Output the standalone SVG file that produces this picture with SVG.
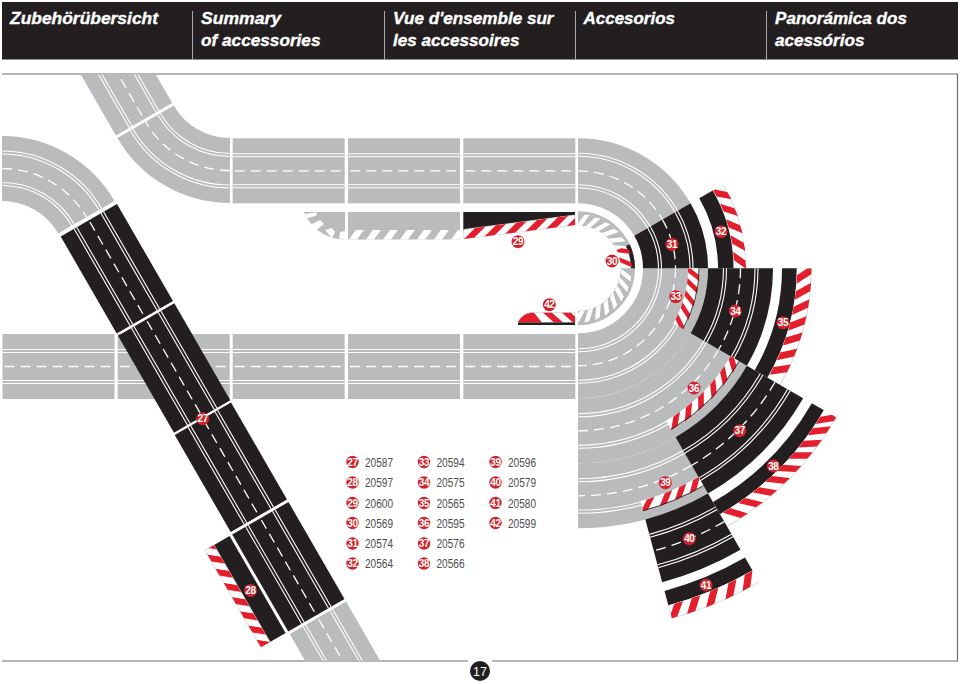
<svg xmlns="http://www.w3.org/2000/svg" xmlns:xlink="http://www.w3.org/1999/xlink" width="960" height="684" viewBox="0 0 960 684">
<style>
  text { font-family: "Liberation Sans", Arial, sans-serif; }
  .head { fill: #fff; stroke: #fff; stroke-width: 0.35px; font-size: 16.5px; font-weight: bold; font-style: italic; }
  .key { fill: #4d4d4f; font-size: 12.5px; }
  .tag { fill: #fff; font-size: 10px; font-weight: bold; text-anchor: middle; letter-spacing: -0.4px; }
  circle, path.arc { fill: none; }
  .dot { fill: #d2232a; }
  .grey { stroke: #b9bbbd; }
  .black { stroke: #231f20; }
  .ln { stroke: #fff; stroke-width: 1.1; }
  .ds { stroke: #fff; stroke-width: 1.3; stroke-dasharray: 10 6; fill: none; }
  .ew { stroke: #fff; }
  .eg { stroke: #c4c6c8; }
  .ek { stroke: #231f20; }
  .rule { stroke: #6d6e71; stroke-width: 1.2; fill: none; }
  .red { fill: #e31e2d; }
  .wht { fill: #fff; }
</style>
<defs>
  <clipPath id="frame"><rect x="0" y="74.5" width="960" height="586"/></clipPath>
  <clipPath id="w-90-25"><polygon points="0,0 0,-1000 906,-423"/></clipPath>
  <clipPath id="w-25-0"><polygon points="0,0 906,-423 1000,0"/></clipPath>
  <clipPath id="w-30-0"><polygon points="0,0 866,-500 1000,0"/></clipPath>
  <clipPath id="w0-30"><polygon points="0,0 1000,0 866,500"/></clipPath>
  <clipPath id="w0-90"><polygon points="0,0 1000,0 1000,1000 0,1000"/></clipPath>
  <clipPath id="w30-60"><polygon points="0,0 866,500 500,866"/></clipPath>
  <clipPath id="w60-75"><polygon points="0,0 500,866 259,966"/></clipPath>

  <pattern id="hatch-g" width="17" height="10" patternUnits="userSpaceOnUse" patternTransform="translate(349,239.5) skewX(-36)">
    <rect width="8" height="10" fill="#fff"/>
  </pattern>
  <pattern id="hatch-29" width="18" height="10" patternUnits="userSpaceOnUse" patternTransform="translate(464,239) skewX(-45)">
    <rect width="9" height="10" fill="#e31e2d"/>
  </pattern>
  <pattern id="hatch-28" width="16.4" height="10" patternUnits="userSpaceOnUse" patternTransform="translate(13.5,86) skewX(-39)">
    <rect width="8" height="10" fill="#e31e2d"/>
  </pattern>

  <!-- lane markings of one straight section, 112 long and 65 wide -->
  <g id="marks">
    <path class="ln" d="M0 15.5H112M0 18.5H112M0 46.5H112M0 49.5H112"/>
    <path class="ds" d="M2 32.5H112"/>
  </g>
  <g id="s-grey"><rect width="112" height="65" fill="#b9bbbd"/><use href="#marks"/></g>
  <g id="s-black"><rect width="112" height="65" fill="#231f20"/><use href="#marks"/></g>

  <!-- 60 degree curve of the innermost lane, drawn round the origin -->
  <g id="curve60" stroke-dasharray="60 300" transform="rotate(-90)">
    <circle class="grey" r="97.5" pathLength="360" stroke-width="65"/>
    <circle class="ln" r="80.5" pathLength="360"/>
    <circle class="ln" r="83.5" pathLength="360"/>
    <circle class="ln" r="112" pathLength="360"/>
    <circle class="ln" r="115" pathLength="360"/>
  </g>
  <path id="d97-60" class="ds" d="M97.5 0A97.5 97.5 0 0 1 48.75 84.44"/>
  <path id="d97-30" class="ds" d="M97.5 0A97.5 97.5 0 0 1 84.44 48.75"/>
  <path id="d97-90" class="ds" d="M97.5 0A97.5 97.5 0 0 1 0 97.5"/>
  <path id="d162-30" class="ds" d="M162.5 0A162.5 162.5 0 0 1 140.73 81.25"/>
  <path id="d162-60" class="ds" d="M162.5 0A162.5 162.5 0 0 1 81.25 140.73"/>
  <path id="d227-30" class="ds" d="M227.5 0A227.5 227.5 0 0 1 197.02 113.75"/>
  <path id="d292-15" class="ds" d="M292.5 0A292.5 292.5 0 0 1 282.54 75.7"/>

  <!-- slanted kerb stripes, x is the radius and y runs along the arc -->
  <polygon id="s30" points="42.5,0 42.5,5.5 53,13.5 53,8"/>
  <polygon id="s32" class="red" points="156,0 156,8.5 167.3,18.5 167.3,10"/>
  <polygon id="s33" class="red" points="110,0 110,6 121,15 121,9"/>
  <polygon id="s35" class="red" points="219,0 219,8.5 233.3,-1.5 233.3,-10"/>
  <polygon id="s36" class="red" points="176,0 176,8 186,18 186,10"/>
  <polygon id="s38" class="red" points="284,0 284,8.5 298,-3.5 298,-12"/>
  <polygon id="s39" class="red" points="241,0 241,8 251,18 251,10"/>
  <polygon id="s41" class="red" points="349,0 349,9 362,19 362,10"/>
</defs>

<!-- page heading -->
<g id="heading">
  <rect x="2" y="2" width="956" height="57.5" fill="#231f20"/>
  <path d="M192.5 11V60M384.5 11V60M575.5 11V60M766.5 11V60" stroke="#a7a9ac" stroke-width="1" fill="none"/>
  <text class="head" x="10" y="24" textLength="148" lengthAdjust="spacingAndGlyphs">Zubehörübersicht</text>
  <text class="head" x="201" y="24" textLength="80" lengthAdjust="spacingAndGlyphs">Summary</text>
  <text class="head" x="201" y="46" textLength="119.5" lengthAdjust="spacingAndGlyphs">of accessories</text>
  <text class="head" x="393" y="24" textLength="160.5" lengthAdjust="spacingAndGlyphs">Vue d'ensemble sur</text>
  <text class="head" x="393" y="46" textLength="126.5" lengthAdjust="spacingAndGlyphs">les accessoires</text>
  <text class="head" x="583.5" y="24" textLength="91.5" lengthAdjust="spacingAndGlyphs">Accesorios</text>
  <text class="head" x="775" y="24" textLength="132" lengthAdjust="spacingAndGlyphs">Panorámica dos</text>
  <text class="head" x="775" y="46" textLength="89.5" lengthAdjust="spacingAndGlyphs">acessórios</text>
</g>

<!-- frame round the layout -->
<path id="frame-line" class="rule" d="M2 74H957.5V661H492M468 661H2"/>

<!-- grey layout underneath the black parts -->
<g id="layout" clip-path="url(#frame)">
  <g transform="translate(172.2,102.9) rotate(60) translate(-112,0)"><use href="#s-grey"/></g>
  <g transform="translate(230,73) rotate(180)"><use href="#curve60"/><use href="#d97-60" transform="rotate(-90)"/></g>
  <g transform="translate(2,266)"><use href="#curve60"/><use href="#d97-60" transform="rotate(-90)"/></g>
  <use href="#s-grey" x="232.7" y="138.3"/>
  <use href="#s-grey" x="348" y="138.3"/>
  <use href="#s-grey" x="463.3" y="138.3"/>
  <use href="#s-grey" x="2.5" y="334"/>
  <use href="#s-grey" x="117.7" y="334"/>
  <use href="#s-grey" x="232.7" y="334"/>
  <use href="#s-grey" x="348" y="334"/>
  <use href="#s-grey" x="463.3" y="334"/>
  <g transform="translate(346,601.5) rotate(60)"><use href="#s-grey"/></g>

  <g transform="translate(578,268.3)">
    <use href="#curve60"/><use href="#d97-60" transform="rotate(-90)"/>
    <g stroke-dasharray="90 270">
      <circle class="grey" r="97.5" pathLength="360" stroke-width="65"/>
      <circle class="ln" r="80.5" pathLength="360"/><circle class="ln" r="83.5" pathLength="360"/>
      <circle class="ln" r="112" pathLength="360"/><circle class="ln" r="115" pathLength="360"/>
    </g>
    <use href="#d97-90"/>
    <g stroke-dasharray="60 300" transform="rotate(30)">
      <circle class="grey" r="162.5" pathLength="360" stroke-width="65"/>
      <circle class="ln" r="145.5" pathLength="360"/><circle class="ln" r="148.5" pathLength="360"/>
      <circle class="ln" r="177" pathLength="360"/><circle class="ln" r="180" pathLength="360"/>
    </g>
    <use href="#d162-60" transform="rotate(30)"/>
    <g stroke-dasharray="30 330" transform="rotate(60)">
      <circle class="grey" r="227.5" pathLength="360" stroke-width="65"/>
      <circle class="ln" r="210.5" pathLength="360"/><circle class="ln" r="213.5" pathLength="360"/>
      <circle class="ln" r="242" pathLength="360"/><circle class="ln" r="245" pathLength="360"/>
    </g>
    <use href="#d227-30" transform="rotate(60)"/>
  </g>
</g>

<!-- part 27: four black straights running down the diagonal -->
<g id="p27">
  <g transform="translate(117,204) rotate(60)"><use href="#s-black"/></g>
  <g transform="translate(174.3,303.3) rotate(60)"><use href="#s-black"/></g>
  <g transform="translate(231,402.5) rotate(60)"><use href="#s-black"/></g>
  <g transform="translate(288.5,502) rotate(60)"><use href="#s-black"/></g>
  <circle class="dot" cx="202.7" cy="418.7" r="6.5"/>
  <text class="tag" x="202.7" y="422.3">27</text>
</g>

<!-- part 28: lane and kerb beside the last straight -->
<g id="p28">
  <g transform="translate(288.5,502) rotate(60)">
    <rect x="0" y="68" width="112" height="18" fill="#231f20"/>
    <rect x="0" y="86" width="112" height="10.5" fill="#fff" stroke="#c4c6c8" stroke-width="0.6"/>
    <rect x="0" y="86" width="112" height="10.5" fill="url(#hatch-28)"/>
  </g>
  <circle class="dot" cx="250.5" cy="590.5" r="6.5"/>
  <text class="tag" x="250.5" y="594">28</text>
</g>

<!-- grey kerb pieces left of part 29 -->
<g id="kerb-left">
  <path d="M345 212H304A44 44 0 0 0 345 239.5Z" fill="#b9bbbd"/>
  <g class="wht">
    <polygon points="305,214 317,212.3 316,215.7 307,218.3"/>
    <polygon points="312,224 320,220 324,224 315,231"/>
    <polygon points="325,230 332,228 335,232 332,238"/>
    <polygon points="340,232 345,231 345,239.5 339,238.5"/>
  </g>
  <rect x="348" y="212" width="112" height="27.5" fill="#b9bbbd"/>
  <rect x="348" y="230" width="112" height="9.5" fill="url(#hatch-g)"/>
</g>

<!-- part 29 -->
<g id="p29">
  <polygon points="463.3,212 575,212 575,215 463.3,229.5" fill="#231f20"/>
  <polygon points="463.3,229.5 575,215 575,225 463.3,239" fill="#fff" stroke="#c4c6c8" stroke-width="0.6"/>
  <polygon points="463.3,229.5 575,215 575,225 463.3,239" fill="url(#hatch-29)"/>
  <circle class="dot" cx="518" cy="241.7" r="6.5"/>
  <text class="tag" x="518" y="245.3">29</text>
</g>

<!-- part 42 -->
<g id="p42">
  <path d="M518 322.5Q522 313 531 312.5H575V322.5Z" fill="#fff" stroke="#c4c6c8" stroke-width="0.6"/>
  <g class="red">
    <path d="M518 322.5Q522 314 531 312.8H534L542 322.5Z"/>
    <polygon points="543,312.8 552,312.8 563,322.5 554,322.5"/>
    <polygon points="562,312.8 571,312.8 575,316.5 575,322.5 573,322.5"/>
  </g>
  <rect x="518" y="322.5" width="57" height="2.5" fill="#231f20"/>
  <circle class="dot" cx="549.3" cy="304.7" r="6.5"/>
  <text class="tag" x="549.3" y="308.3">42</text>
</g>

<!-- curved parts share the centre of the big bend -->
<g id="bend" transform="translate(578,268.3)">
  <g id="p30">
    <circle class="grey" r="49.75" pathLength="360" stroke-width="14.5" stroke-dasharray="180 180" transform="rotate(-90)"/>
    <circle class="ew" r="47.75" pathLength="360" stroke-width="10.5" stroke-dasharray="25 335" transform="rotate(-25)"/>
    <circle class="ek" r="55" pathLength="360" stroke-width="4" stroke-dasharray="25 335" transform="rotate(-25)"/>
    <g clip-path="url(#w-90-25)" class="wht">
      <use href="#s30" transform="rotate(-92)"/><use href="#s30" transform="rotate(-80)"/>
      <use href="#s30" transform="rotate(-68)"/><use href="#s30" transform="rotate(-56)"/>
      <use href="#s30" transform="rotate(-44)"/><use href="#s30" transform="rotate(-33)"/>
    </g>
    <g clip-path="url(#w-25-0)" class="red">
      <use href="#s30" transform="rotate(-29.5)"/><use href="#s30" transform="rotate(-15)"/>
    </g>
    <g clip-path="url(#w0-90)" class="wht">
      <use href="#s30"/><use href="#s30" transform="rotate(11.5)"/>
      <use href="#s30" transform="rotate(23)"/><use href="#s30" transform="rotate(34.5)"/>
      <use href="#s30" transform="rotate(46)"/><use href="#s30" transform="rotate(57.5)"/>
      <use href="#s30" transform="rotate(69)"/><use href="#s30" transform="rotate(80.5)"/>
    </g>
  </g>

  <g id="p31">
    <g stroke-dasharray="30 330" transform="rotate(-30)">
      <circle class="black" r="97.5" pathLength="360" stroke-width="65"/>
      <circle class="ln" r="80.5" pathLength="360"/><circle class="ln" r="83.5" pathLength="360"/>
      <circle class="ln" r="112" pathLength="360"/><circle class="ln" r="115" pathLength="360"/>
    </g>
    <use href="#d97-30" transform="rotate(-30)"/>
  </g>

  <g id="p32">
    <circle class="black" r="148" pathLength="360" stroke-width="16" stroke-dasharray="30 330" transform="rotate(-30)"/>
    <circle class="eg" r="161.6" pathLength="360" stroke-width="12.4" stroke-dasharray="30 330" transform="rotate(-30)"/>
    <circle class="ew" r="161.6" pathLength="360" stroke-width="11.4" stroke-dasharray="30 330" transform="rotate(-30)"/>
    <g clip-path="url(#w-30-0)">
      <use href="#s32" transform="rotate(-30.5)"/><use href="#s32" transform="rotate(-24.4)"/>
      <use href="#s32" transform="rotate(-18.3)"/><use href="#s32" transform="rotate(-12.2)"/>
      <use href="#s32" transform="rotate(-6.1)"/>
    </g>
  </g>

  <g id="p34">
    <g stroke-dasharray="30 330">
      <circle class="black" r="162.5" pathLength="360" stroke-width="65"/>
      <circle class="ln" r="145.5" pathLength="360"/><circle class="ln" r="148.5" pathLength="360"/>
      <circle class="ln" r="177" pathLength="360"/><circle class="ln" r="180" pathLength="360"/>
    </g>
    <use href="#d162-30"/>
  </g>

  <g id="p33">
    <circle class="ew" r="115.5" pathLength="360" stroke-width="11" stroke-dasharray="30 330"/>
    <g clip-path="url(#w0-30)">
      <use href="#s33" transform="rotate(-1)"/><use href="#s33" transform="rotate(5)"/>
      <use href="#s33" transform="rotate(11.5)"/><use href="#s33" transform="rotate(18)"/>
      <use href="#s33" transform="rotate(24.5)"/>
    </g>
    <circle class="ek" r="121" pathLength="360" stroke-width="0.8" stroke-dasharray="30 330"/>
  </g>

  <g id="p35">
    <circle class="black" r="211.5" pathLength="360" stroke-width="15" stroke-dasharray="30 330"/>
    <circle class="eg" r="226.2" pathLength="360" stroke-width="15" stroke-dasharray="30 330"/>
    <circle class="ew" r="226" pathLength="360" stroke-width="14" stroke-dasharray="30 330"/>
    <g clip-path="url(#w0-30)">
      <use href="#s35" transform="rotate(1.8)"/><use href="#s35" transform="rotate(6)"/>
      <use href="#s35" transform="rotate(10.1)"/><use href="#s35" transform="rotate(14.3)"/>
      <use href="#s35" transform="rotate(18.4)"/><use href="#s35" transform="rotate(22.6)"/>
      <use href="#s35" transform="rotate(26.8)"/>
    </g>
  </g>

  <g id="p37">
    <g stroke-dasharray="30 330" transform="rotate(30)">
      <circle class="black" r="227.5" pathLength="360" stroke-width="65"/>
      <circle class="ln" r="210.5" pathLength="360"/><circle class="ln" r="213.5" pathLength="360"/>
      <circle class="ln" r="242" pathLength="360"/><circle class="ln" r="245" pathLength="360"/>
    </g>
    <use href="#d227-30" transform="rotate(30)"/>
  </g>

  <g id="p36">
    <circle class="ew" r="181" pathLength="360" stroke-width="10" stroke-dasharray="30 330" transform="rotate(30)"/>
    <g clip-path="url(#w30-60)">
      <use href="#s36" transform="rotate(28.6)"/><use href="#s36" transform="rotate(33.6)"/>
      <use href="#s36" transform="rotate(38.8)"/><use href="#s36" transform="rotate(44.4)"/>
      <use href="#s36" transform="rotate(49.6)"/><use href="#s36" transform="rotate(54.6)"/>
    </g>
    <circle class="ek" r="186" pathLength="360" stroke-width="0.8" stroke-dasharray="30 330" transform="rotate(30)"/>
  </g>

  <g id="p38">
    <circle class="black" r="277" pathLength="360" stroke-width="14" stroke-dasharray="30 330" transform="rotate(30)"/>
    <circle class="eg" r="291.2" pathLength="360" stroke-width="14.6" stroke-dasharray="30 330" transform="rotate(30)"/>
    <circle class="ew" r="291" pathLength="360" stroke-width="14" stroke-dasharray="30 330" transform="rotate(30)"/>
    <g clip-path="url(#w30-60)">
      <use href="#s38" transform="rotate(31.5)"/><use href="#s38" transform="rotate(34.3)"/>
      <use href="#s38" transform="rotate(37.4)"/><use href="#s38" transform="rotate(40.4)"/>
      <use href="#s38" transform="rotate(43.8)"/><use href="#s38" transform="rotate(47)"/>
      <use href="#s38" transform="rotate(50.4)"/><use href="#s38" transform="rotate(54)"/>
      <use href="#s38" transform="rotate(57.6)"/>
    </g>
  </g>

  <g id="p39">
    <circle class="ew" r="246" pathLength="360" stroke-width="10" stroke-dasharray="15 345" transform="rotate(60)"/>
    <g clip-path="url(#w60-75)">
      <use href="#s39" transform="rotate(59.6)"/><use href="#s39" transform="rotate(63.3)"/>
      <use href="#s39" transform="rotate(67)"/><use href="#s39" transform="rotate(71.5)"/>
    </g>
    <circle class="ek" r="251" pathLength="360" stroke-width="0.8" stroke-dasharray="15 345" transform="rotate(60)"/>
  </g>

  <g id="p40">
    <g stroke-dasharray="15 345" transform="rotate(60)">
      <circle class="black" r="292.5" pathLength="360" stroke-width="65"/>
      <circle class="ln" r="275.5" pathLength="360"/><circle class="ln" r="278.5" pathLength="360"/>
      <circle class="ln" r="307" pathLength="360"/><circle class="ln" r="310" pathLength="360"/>
    </g>
    <use href="#d292-15" transform="rotate(60)"/>
  </g>

  <g id="p41">
    <circle class="black" r="341.5" pathLength="360" stroke-width="15" stroke-dasharray="15 345" transform="rotate(60)"/>
    <circle class="eg" r="355.7" pathLength="360" stroke-width="13.6" stroke-dasharray="15 345" transform="rotate(60)"/>
    <circle class="ew" r="355.5" pathLength="360" stroke-width="13" stroke-dasharray="15 345" transform="rotate(60)"/>
    <g clip-path="url(#w60-75)">
      <use href="#s41" transform="rotate(60)"/><use href="#s41" transform="rotate(63)"/>
      <use href="#s41" transform="rotate(66.3)"/><use href="#s41" transform="rotate(69.5)"/>
      <use href="#s41" transform="rotate(72.5)"/>
    </g>
  </g>
</g>

<!-- number tags on the curved parts -->
<g id="tags">
  <circle class="dot" cx="612" cy="261" r="6.5"/>
  <circle class="dot" cx="672" cy="244.3" r="6.5"/>
  <circle class="dot" cx="721" cy="231.7" r="6.5"/>
  <circle class="dot" cx="675.7" cy="296.7" r="6.5"/>
  <circle class="dot" cx="735.3" cy="311" r="6.5"/>
  <circle class="dot" cx="783" cy="322.7" r="6.5"/>
  <circle class="dot" cx="694" cy="388" r="6.5"/>
  <circle class="dot" cx="739.7" cy="430.7" r="6.5"/>
  <circle class="dot" cx="773.3" cy="466" r="6.5"/>
  <circle class="dot" cx="665.3" cy="482.7" r="6.5"/>
  <circle class="dot" cx="689.3" cy="538.7" r="6.5"/>
  <circle class="dot" cx="706" cy="585" r="6.5"/>
  <text class="tag" x="612" y="264.6">30</text>
  <text class="tag" x="672" y="247.9">31</text>
  <text class="tag" x="721" y="235.3">32</text>
  <text class="tag" x="675.7" y="300.3">33</text>
  <text class="tag" x="735.3" y="314.6">34</text>
  <text class="tag" x="783" y="326.3">35</text>
  <text class="tag" x="694" y="391.6">36</text>
  <text class="tag" x="739.7" y="434.3">37</text>
  <text class="tag" x="773.3" y="469.6">38</text>
  <text class="tag" x="665.3" y="486.3">39</text>
  <text class="tag" x="689.3" y="542.3">40</text>
  <text class="tag" x="706" y="588.6">41</text>
</g>

<!-- list of part numbers -->
<g id="key">
  <g>
    <circle class="dot" cx="352.5" cy="462" r="6.2"/><text class="tag" x="352.5" y="465.6">27</text>
    <text class="key" x="365" y="466.5" textLength="28" lengthAdjust="spacingAndGlyphs">20587</text>
    <circle class="dot" cx="352.5" cy="482.5" r="6.2"/><text class="tag" x="352.5" y="486.1">28</text>
    <text class="key" x="365" y="487" textLength="28" lengthAdjust="spacingAndGlyphs">20597</text>
    <circle class="dot" cx="352.5" cy="503" r="6.2"/><text class="tag" x="352.5" y="506.6">29</text>
    <text class="key" x="365" y="507.5" textLength="28" lengthAdjust="spacingAndGlyphs">20600</text>
    <circle class="dot" cx="352.5" cy="523" r="6.2"/><text class="tag" x="352.5" y="526.6">30</text>
    <text class="key" x="365" y="527.5" textLength="28" lengthAdjust="spacingAndGlyphs">20569</text>
    <circle class="dot" cx="352.5" cy="543.5" r="6.2"/><text class="tag" x="352.5" y="547.1">31</text>
    <text class="key" x="365" y="548" textLength="28" lengthAdjust="spacingAndGlyphs">20574</text>
    <circle class="dot" cx="352.5" cy="563.5" r="6.2"/><text class="tag" x="352.5" y="567.1">32</text>
    <text class="key" x="365" y="568" textLength="28" lengthAdjust="spacingAndGlyphs">20564</text>
  </g>
  <g>
    <circle class="dot" cx="424" cy="462" r="6.2"/><text class="tag" x="424" y="465.6">33</text>
    <text class="key" x="436.5" y="466.5" textLength="28" lengthAdjust="spacingAndGlyphs">20594</text>
    <circle class="dot" cx="424" cy="482.5" r="6.2"/><text class="tag" x="424" y="486.1">34</text>
    <text class="key" x="436.5" y="487" textLength="28" lengthAdjust="spacingAndGlyphs">20575</text>
    <circle class="dot" cx="424" cy="503" r="6.2"/><text class="tag" x="424" y="506.6">35</text>
    <text class="key" x="436.5" y="507.5" textLength="28" lengthAdjust="spacingAndGlyphs">20565</text>
    <circle class="dot" cx="424" cy="523" r="6.2"/><text class="tag" x="424" y="526.6">36</text>
    <text class="key" x="436.5" y="527.5" textLength="28" lengthAdjust="spacingAndGlyphs">20595</text>
    <circle class="dot" cx="424" cy="543.5" r="6.2"/><text class="tag" x="424" y="547.1">37</text>
    <text class="key" x="436.5" y="548" textLength="28" lengthAdjust="spacingAndGlyphs">20576</text>
    <circle class="dot" cx="424" cy="563.5" r="6.2"/><text class="tag" x="424" y="567.1">38</text>
    <text class="key" x="436.5" y="568" textLength="28" lengthAdjust="spacingAndGlyphs">20566</text>
  </g>
  <g>
    <circle class="dot" cx="495.5" cy="462" r="6.2"/><text class="tag" x="495.5" y="465.6">39</text>
    <text class="key" x="508" y="466.5" textLength="28" lengthAdjust="spacingAndGlyphs">20596</text>
    <circle class="dot" cx="495.5" cy="482.5" r="6.2"/><text class="tag" x="495.5" y="486.1">40</text>
    <text class="key" x="508" y="487" textLength="28" lengthAdjust="spacingAndGlyphs">20579</text>
    <circle class="dot" cx="495.5" cy="503" r="6.2"/><text class="tag" x="495.5" y="506.6">41</text>
    <text class="key" x="508" y="507.5" textLength="28" lengthAdjust="spacingAndGlyphs">20580</text>
    <circle class="dot" cx="495.5" cy="523" r="6.2"/><text class="tag" x="495.5" y="526.6">42</text>
    <text class="key" x="508" y="527.5" textLength="28" lengthAdjust="spacingAndGlyphs">20599</text>
  </g>
</g>

<!-- page number -->
<g id="page">
  <circle cx="480" cy="671" r="10" style="fill:#231f20"/>
  <text x="480" y="675.5" text-anchor="middle" font-size="12.5" fill="#fff">17</text>
</g>
</svg>
